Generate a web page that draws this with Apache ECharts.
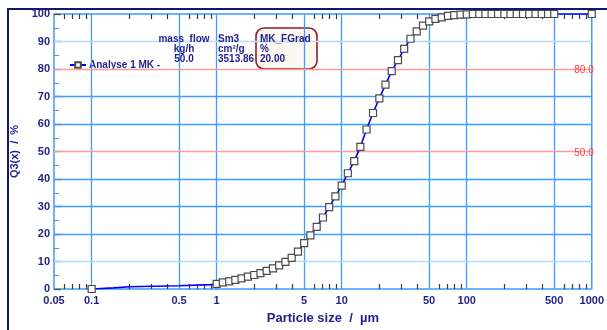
<!DOCTYPE html>
<html>
<head>
<meta charset="utf-8">
<script src="https://cdn.jsdelivr.net/npm/echarts@6/dist/echarts.min.js"></script>
<style>
html,body{margin:0;padding:0;background:#fff;}
#chart{width:607px;height:330px;}
</style>
</head>
<body>
<div id="chart"></div>
<script>
// ---- data ----
const particleSizes = [0.1, 0.15, 0.2, 0.5, 0.9,
  1.00, 1.12, 1.26, 1.41, 1.58, 1.78, 2.00, 2.24, 2.51, 2.82,
  3.16, 3.55, 3.98, 4.47, 5.01, 5.62, 6.31, 7.08, 7.94, 8.91,
  10.0, 11.2, 12.6, 14.1, 15.8, 17.8, 20.0, 22.4, 25.1, 28.2,
  31.6, 35.5, 39.8, 44.7, 50.1, 56.2, 63.1, 70.8, 79.4, 89.1,
  100, 112, 126, 141, 158, 178, 200, 224, 251, 282,
  316, 355, 398, 447, 501, 1000];
const q3Values = [0, 0.4, 0.8, 1.2, 1.6,
  1.9, 2.4, 2.8, 3.3, 3.9, 4.5, 5.1, 5.8, 6.6, 7.5,
  8.6, 9.9, 11.3, 13.6, 16.7, 19.5, 22.6, 26.0, 29.8, 33.7,
  37.6, 42.1, 46.5, 51.7, 58.0, 64.0, 69.3, 74.3, 79.2, 83.2,
  87.3, 91.0, 93.7, 95.8, 97.3, 98.2, 98.8, 99.3, 99.6, 99.8,
  99.9, 100, 100, 100, 100, 100, 100, 100, 100, 100,
  100, 100, 100, 100, 100, 100];
// points drawn as line only (no marker)
const lineOnlySizes = [0.15, 0.2, 0.5, 0.9];
const xTickLabels = [0.05, 0.1, 0.5, 1, 5, 10, 50, 100, 500, 1000];
const xGridValues = [0.1, 0.5, 1, 5, 10, 50, 100, 500];
const xMinorTicks = [0.06,0.07,0.08,0.09,0.2,0.3,0.4,0.6,0.7,0.8,0.9,
  2,3,4,6,7,8,9,20,30,40,60,70,80,90,200,300,400,600,700,800,900];
const yGridStrong = [20, 30, 40, 60, 70];
const yGridLight = [10, 90];
const yRefLines = [80, 50];
const seriesName = 'Analyse 1 MK';
const tableCols = [
  {head: 'mass  flow', unit: 'kg/h', value: '50.0'},
  {head: 'Sm3', unit: 'cm²/g', value: '3513.86'},
  {head: 'MK_FGrad', unit: '%', value: '20.00'}
];

// ---- chart ----
const NAVY = '#1f1f8f';
const BLUE = '#3d9cff';
const chart = echarts.init(document.getElementById('chart'));

const lineData = particleSizes.map((s, i) => {
  const item = {value: [s, q3Values[i]]};
  if (lineOnlySizes.indexOf(s) >= 0) item.symbol = 'none';
  return item;
});

const markLineData = [];
xGridValues.forEach(v => markLineData.push({xAxis: v, lineStyle: {color: BLUE, width: 1.3, type: 'solid'}}));
yGridStrong.forEach(v => markLineData.push({yAxis: v, lineStyle: {color: BLUE, width: 1.3, type: 'solid'}}));
yGridLight.forEach(v => markLineData.push({yAxis: v, lineStyle: {color: '#b5dbff', width: 1.3, type: 'solid'}}));
yRefLines.forEach(v => markLineData.push({yAxis: v, lineStyle: {color: '#ff9a9a', width: 1.3, type: 'solid'},
  label: {show: true, position: 'insideEnd', distance: 0, formatter: v.toFixed(1), color: '#ff3c3c',
    fontSize: 10, fontFamily: 'Liberation Sans', offset: [2, 1.5]}}));

const fmt = v => String(parseFloat(Number(v).toPrecision(6)));

const graphics = [
  {type: 'rect', shape: {x: 8, y: 9, width: 700, height: 400}, style: {fill: 'none', stroke: '#15156e', lineWidth: 2}, silent: true, z: 0},
  {type: 'rect', shape: {x: 256, y: 28, width: 61, height: 41, r: 8}, style: {fill: '#fdf7f1', stroke: '#8e1d24', lineWidth: 1.6}, z: 5}
];
const colX = [184, 218, 260];
const colAlign = ['center', 'left', 'left'];
tableCols.forEach((c, i) => {
  [c.head, c.unit, c.value].forEach((t, j) => {
    graphics.push({type: 'text', x: colX[i], y: 39 + j * 10, z: 6,
      style: {text: t, font: 'bold 10px "Liberation Sans", Arial, sans-serif', fill: NAVY,
        align: colAlign[i], verticalAlign: 'middle'}});
  });
});

const tickStyle = {show: true, inside: true, length: 5, customValues: xMinorTicks, lineStyle: {color: '#3a3a3a', width: 1.2}};

chart.setOption({
  animation: false,
  backgroundColor: '#fff',
  grid: {left: 54, right: 12, top: 14, bottom: 33, show: true, borderColor: BLUE, borderWidth: 1.5, backgroundColor: 'transparent'},
  legend: {
    data: [seriesName], left: 64, top: 55, itemWidth: 16, itemHeight: 7, itemGap: 4,
    formatter: n => n + ' -',
    textStyle: {color: NAVY, fontWeight: 'bold', fontSize: 10, fontFamily: 'Liberation Sans', padding: [0, 0, 0, -2]}
  },
  xAxis: [{
    type: 'log', logBase: 10, min: 0.05, max: 1000, position: 'bottom', z: 3,
    name: 'Particle size  /  µm', nameLocation: 'middle', nameGap: 23,
    nameTextStyle: {color: NAVY, fontWeight: 'bold', fontSize: 13, fontFamily: 'Liberation Sans'},
    axisLine: {show: false},
    axisTick: tickStyle,
    splitLine: {show: false},
    axisLabel: {customValues: xTickLabels, formatter: fmt, color: NAVY, fontWeight: 'bold', fontSize: 11,
      fontFamily: 'Liberation Sans', margin: 6}
  }, {
    type: 'log', logBase: 10, min: 0.05, max: 1000, position: 'top', z: 3,
    axisLine: {show: false},
    axisTick: tickStyle,
    splitLine: {show: false},
    axisLabel: {show: false}
  }],
  yAxis: {
    type: 'value', min: 0, max: 100, interval: 10, z: 3,
    name: 'Q3(x)  /  %', nameLocation: 'middle', nameGap: 34,
    nameTextStyle: {color: NAVY, fontWeight: 'bold', fontSize: 11, fontFamily: 'Liberation Sans'},
    axisLine: {show: false},
    axisTick: {show: true, inside: true, length: 7, lineStyle: {color: '#555', width: 1.3}},
    minorTick: {show: true, splitNumber: 2, length: 5, lineStyle: {color: '#888', width: 1}},
    splitLine: {show: false},
    axisLabel: {color: NAVY, fontWeight: 'bold', fontSize: 11, fontFamily: 'Liberation Sans', margin: 4}
  },
  graphic: graphics,
  series: [
    {
      type: 'line', name: 'grid', z: 1, silent: true, xAxisIndex: 0,
      data: lineData, symbol: 'none', lineStyle: {opacity: 0}, legendHoverLink: false,
      markLine: {silent: true, symbol: ['none', 'none'], label: {show: false}, data: markLineData, animation: false}
    },
    {
      type: 'line', name: seriesName, z: 5, xAxisIndex: 0,
      data: lineData,
      symbol: 'rect', symbolSize: 7, showAllSymbol: true,
      lineStyle: {color: '#0000ff', width: 1.6},
      itemStyle: {color: '#ffffff', borderColor: '#4a4a4a', borderWidth: 1.2},
      emphasis: {disabled: true}
    }
  ]
});
</script>
</body>
</html>
